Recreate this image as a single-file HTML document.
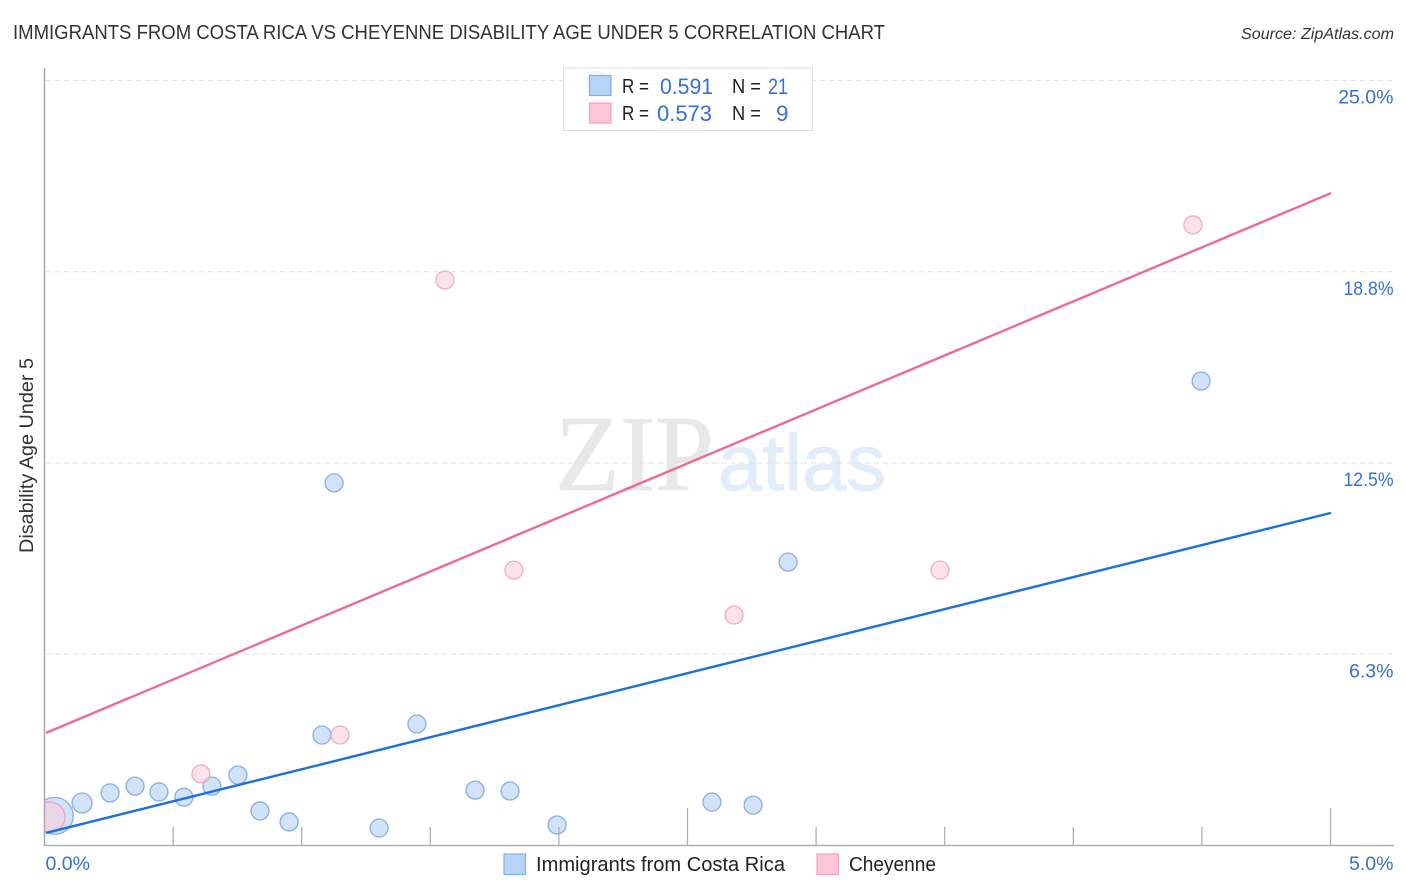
<!DOCTYPE html>
<html lang="en">
<head>
<meta charset="utf-8">
<title>Immigrants from Costa Rica vs Cheyenne Disability Age Under 5 Correlation Chart</title>
<style>
html,body{margin:0;padding:0;background:#fff;}
svg{display:block;font-family:"Liberation Sans",sans-serif;}
</style>
</head>
<body>
<svg id="chart" xmlns="http://www.w3.org/2000/svg" width="1406" height="892" viewBox="0 0 1406 892">
  <rect x="0" y="0" width="1406" height="892" fill="#fff"/>
  <text x="13" y="39" font-size="20" fill="#333" textLength="872" lengthAdjust="spacingAndGlyphs">IMMIGRANTS FROM COSTA RICA VS CHEYENNE DISABILITY AGE UNDER 5 CORRELATION CHART</text>
  <text x="1241" y="39" font-size="15.5" font-style="italic" fill="#333" textLength="153" lengthAdjust="spacingAndGlyphs">Source: ZipAtlas.com</text>
  <text x="555" y="490" font-family="'Liberation Serif',serif" font-size="108" fill="#e8e8e8" stroke="#e8e8e8" stroke-width="0.8" textLength="159" lengthAdjust="spacingAndGlyphs">ZIP</text>
  <text x="718" y="490" font-family="'Liberation Sans',sans-serif" font-size="80" fill="#e3ecf9" stroke="#e3ecf9" stroke-width="0.8" textLength="168" lengthAdjust="spacingAndGlyphs">atlas</text>
  <g id="grid"></g>
  <svg x="45" y="60" width="1350" height="786" viewBox="45 60 1350 786" overflow="hidden" style="overflow:hidden">
    <g id="points"></g>
  </svg>
  <g id="lines"></g>
  <g id="axes"></g>
  <text transform="translate(33,553) rotate(-90)" font-size="19" fill="#333" textLength="195" lengthAdjust="spacingAndGlyphs">Disability Age Under 5</text>

  <g>
    <rect x="563.5" y="68" width="249" height="62.5" fill="#fff" fill-opacity="0.82" stroke="#ddd" stroke-width="1"/>
    <rect x="589.5" y="75.5" width="21.5" height="20" fill="#b7d3f8" stroke="#85aee6" stroke-width="1.2"/>
    <rect x="589.5" y="103" width="21.5" height="20" fill="#fcc6d8" stroke="#f2a3bf" stroke-width="1.2"/>
    <g font-size="20.5">
      <text x="622" y="93" fill="#222" textLength="27" lengthAdjust="spacingAndGlyphs">R =</text>
      <text x="660" y="94" fill="#3470d6" font-size="22.5" textLength="53" lengthAdjust="spacingAndGlyphs">0.591</text>
      <text x="732" y="93" fill="#222" textLength="29" lengthAdjust="spacingAndGlyphs">N =</text>
      <text x="768" y="94" fill="#3470d6" font-size="22.5" textLength="20" lengthAdjust="spacingAndGlyphs">21</text>
      <text x="622" y="120" fill="#222" textLength="27" lengthAdjust="spacingAndGlyphs">R =</text>
      <text x="657" y="121" fill="#3470d6" font-size="22.5" textLength="55" lengthAdjust="spacingAndGlyphs">0.573</text>
      <text x="732" y="120" fill="#222" textLength="29" lengthAdjust="spacingAndGlyphs">N =</text>
      <text x="776" y="121" fill="#3470d6" font-size="22.5">9</text>
    </g>
  </g>

  <g>
    <rect x="504" y="854" width="21.5" height="20.5" fill="#b7d3f8" stroke="#85aee6" stroke-width="1.2"/>
    <text x="536" y="871" font-size="20" fill="#222" textLength="249" lengthAdjust="spacingAndGlyphs">Immigrants from Costa Rica</text>
    <rect x="817" y="854" width="21.5" height="20.5" fill="#fcc6d8" stroke="#f2a3bf" stroke-width="1.2"/>
    <text x="849" y="871" font-size="20" fill="#222" textLength="87" lengthAdjust="spacingAndGlyphs">Cheyenne</text>
  </g>
</svg>
<script>
const xTickValues = [0, 0.5, 1, 1.5, 2, 2.5, 3, 3.5, 4, 4.5, 5];
const xMajorTicks = [2.5, 5];
const xEndLabels = ["0.0%", "5.0%"];
const yTickValues = [25, 18.75, 12.5, 6.25];
const yTickLabels = ["25.0%", "18.8%", "12.5%", "6.3%"];

const costaRicaX = [0.040, 0.146, 0.255, 0.352, 0.445, 0.542, 0.651, 0.752, 0.838, 0.951, 1.079, 1.126, 1.301, 1.448, 1.674, 1.810, 1.993, 2.148, 2.595, 2.755, 2.891, 4.497];
const costaRicaY = [0.97, 1.39, 1.72, 1.94, 1.75, 1.58, 1.94, 2.30, 1.13, 0.77, 3.61, 11.85, 0.57, 3.97, 1.81, 1.78, 0.67, 25.0, 1.42, 1.32, 9.26, 15.18];
const costaRicaWeight = [4.2, 1.23, 1, 1, 1, 1, 1, 1, 1, 1, 1, 1, 1, 1, 1, 1, 1, 1, 1, 1, 1, 1];

const cheyenneX = [0.021, 0.608, 1.149, 1.557, 1.825, 2.681, 3.482, 4.465];
const cheyenneY = [0.93, 2.34, 3.61, 18.48, 9.0, 7.53, 9.0, 20.28];
const cheyenneWeight = [2.8, 1, 1, 1, 1, 1, 1, 1];

const trendX = [0.006, 5.002];
const costaRicaTrend = [0.41, 10.87];
const cheyenneTrend = [3.68, 21.32];

const NS = 'http://www.w3.org/2000/svg';
function xScale(v) { return 44.5 + v * 257.2; }
function yScale(v) { return 845.5 - v * 30.6; }
function radius(w) { return 9 * Math.sqrt(w); }
function make(tag, attrs, parent) {
  const el = document.createElementNS(NS, tag);
  for (const k in attrs) el.setAttribute(k, attrs[k]);
  parent.appendChild(el);
  return el;
}
const gridG = document.getElementById('grid');
const pointsG = document.getElementById('points');
const linesG = document.getElementById('lines');
const axesG = document.getElementById('axes');

yTickValues.forEach(function (v, i) {
  const line = make('line', { x1: 46, x2: 1394, y1: yScale(v), y2: yScale(v), stroke: '#e2e2e2', 'stroke-width': 1, 'stroke-dasharray': '5 4' }, gridG);
  
  
  const label = make('text', { x: 1393.5, y: yScale(v) + 23.2, 'text-anchor': 'end', 'font-size': 19.5, fill: '#3470d6' }, axesG);
  label.textContent = yTickLabels[i];
  if (yTickLabels[i].charAt(0) === '1') {
    label.setAttribute('textLength', '50');
    label.setAttribute('lengthAdjust', 'spacingAndGlyphs');
  }
  
  
});

function drawSeries(xs, ys, ws, fill, stroke, strokeOpacity, name) {
  xs.forEach(function (x, i) {
    const c = make('circle', { cx: xScale(x), cy: yScale(ys[i]), r: radius(ws[i]), fill: fill, 'fill-opacity': 0.6, stroke: stroke, 'stroke-width': 1.3, 'stroke-opacity': strokeOpacity }, pointsG);
    
    
  });
}
drawSeries(costaRicaX, costaRicaY, costaRicaWeight, '#b3cff5', '#6f9fe0', 0.8, 'point-costa-rica');
drawSeries(cheyenneX, cheyenneY, cheyenneWeight, '#f9cfdd', '#ee8fb0', 0.7, 'point-cheyenne');

const trendBlue = make('line', { x1: xScale(trendX[0]), x2: xScale(trendX[1]), y1: yScale(costaRicaTrend[0]), y2: yScale(costaRicaTrend[1]), stroke: '#1f6fdc', 'stroke-width': 2.4 }, linesG);


const trendPink = make('line', { x1: xScale(trendX[0]), x2: xScale(trendX[1]), y1: yScale(cheyenneTrend[0]), y2: yScale(cheyenneTrend[1]), stroke: '#ec6a96', 'stroke-width': 2.4 }, linesG);



const yAxis = make('line', { x1: 44.5, x2: 44.5, y1: 68, y2: 846, stroke: '#a8a8a8', 'stroke-width': 1.5 }, axesG);


const xAxis = make('line', { x1: 44, x2: 1394, y1: 845.5, y2: 845.5, stroke: '#b0b0b0', 'stroke-width': 1.5 }, axesG);



xTickValues.slice(1).forEach(function (v) {
  const major = xMajorTicks.indexOf(v) !== -1;
  const t = make('line', { x1: xScale(v), x2: xScale(v), y1: major ? 808 : 827, y2: 845.5, stroke: '#b0b0b0', 'stroke-width': 1.3 }, axesG);
  
  
});

const xLabelStart = make('text', { x: 45.5, y: 870, 'font-size': 19.5, fill: '#3470d6' }, axesG);
xLabelStart.textContent = xEndLabels[0];


const xLabelEnd = make('text', { x: 1393.5, y: 870, 'text-anchor': 'end', 'font-size': 19.5, fill: '#3470d6' }, axesG);
xLabelEnd.textContent = xEndLabels[1];


</script>
</body>
</html>
